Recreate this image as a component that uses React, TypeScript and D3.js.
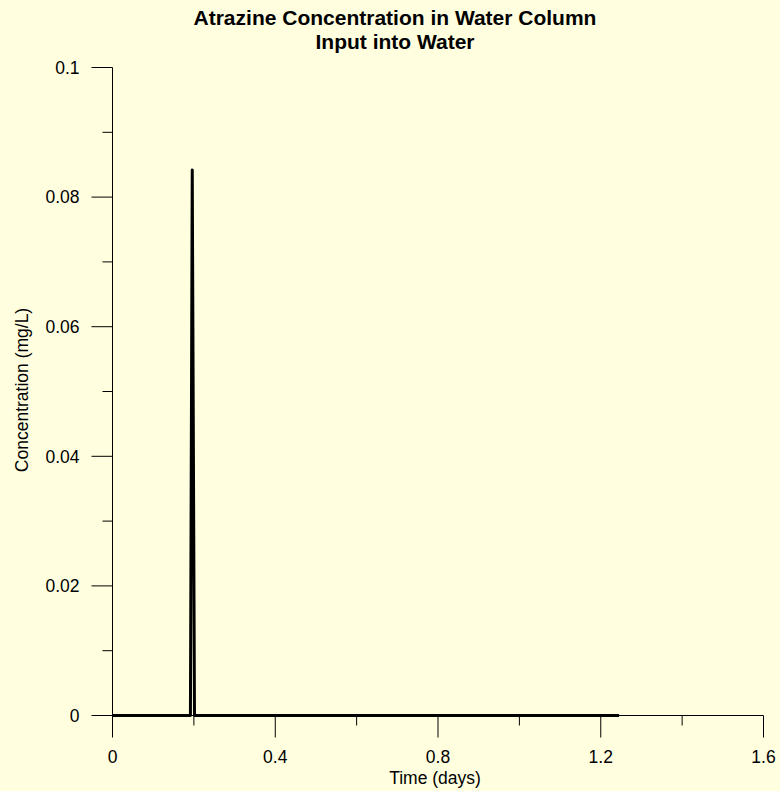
import React from "react";
import * as d3 from "d3";

const titleLines = ["Atrazine Concentration in Water Column", "Input into Water"];
const xLabel = "Time (days)";
const yLabel = "Concentration (mg/L)";

const timeDays = [0, 0.1915, 0.196, 0.2015, 1.245];
const concentration = [0, 0, 0.0842, 0, 0];

const xMajorTicks = [0, 0.4, 0.8, 1.2, 1.6];
const xMinorTicks = [0.2, 0.6, 1.0, 1.4];
const yMajorTicks = [0, 0.02, 0.04, 0.06, 0.08, 0.1];
const yMinorTicks = [0.01, 0.03, 0.05, 0.07, 0.09];

const W = 780;
const H = 791;
const FONT = "'Liberation Sans', Arial, Helvetica, sans-serif";

export default function App() {
  const x = d3.scaleLinear().domain([0, 1.6]).range([112.5, 763.5]);
  const y = d3.scaleLinear().domain([0, 0.1]).range([715.5, 67.5]);

  const pts: [number, number][] = timeDays.map((t, i) => [t, concentration[i]]);
  const line = d3
    .line<[number, number]>()
    .x((d) => x(d[0]))
    .y((d) => y(d[1]));

  const fmt = (v: number) => (v === 0 ? "0" : String(+v.toFixed(2)));

  return (
    <svg
      width={W}
      height={H}
      style={{ position: "fixed", left: 0, top: 0, background: "#ffffe0" }}
      fontFamily={FONT}
    >
      <rect x={0} y={0} width={W} height={H} fill="#ffffe0" />
      {/* Title */}
      <text x={395} y={25} textAnchor="middle" fontWeight="bold" fontSize={21} fill="#000">
        {titleLines[0]}
      </text>
      <text x={395} y={49} textAnchor="middle" fontWeight="bold" fontSize={21} fill="#000">
        {titleLines[1]}
      </text>

      {/* Axes */}
      <line x1={x(0)} x2={x(0)} y1={y(0.1)} y2={y(0)} stroke="#000" strokeWidth={1} />
      <line x1={x(0)} x2={x(1.6)} y1={y(0)} y2={y(0)} stroke="#000" strokeWidth={1} />

      {/* X ticks */}
      {xMajorTicks.map((t) => (
        <g key={"xM" + t}>
          <line x1={x(t)} x2={x(t)} y1={y(0)} y2={y(0) + 22} stroke="#000" strokeWidth={1} />
          <text x={x(t)} y={763} textAnchor="middle" fontSize={17.5} fill="#000">
            {fmt(t)}
          </text>
        </g>
      ))}
      {xMinorTicks.map((t) => (
        <line key={"xm" + t} x1={x(t)} x2={x(t)} y1={y(0)} y2={y(0) + 10} stroke="#000" strokeWidth={1} />
      ))}

      {/* Y ticks */}
      {yMajorTicks.map((t) => (
        <g key={"yM" + t}>
          <line x1={x(0) - 21} x2={x(0)} y1={y(t)} y2={y(t)} stroke="#000" strokeWidth={1} />
          <text x={79.5} y={y(t)} dy="0.36em" textAnchor="end" fontSize={17.5} fill="#000">
            {fmt(t)}
          </text>
        </g>
      ))}
      {yMinorTicks.map((t) => (
        <line key={"ym" + t} x1={x(0) - 10} x2={x(0)} y1={y(t)} y2={y(t)} stroke="#000" strokeWidth={1} />
      ))}

      {/* Axis labels */}
      <text x={435} y={784} textAnchor="middle" fontSize={17.5} fill="#000">
        {xLabel}
      </text>
      <text
        transform={`translate(28,390) rotate(-90)`}
        textAnchor="middle"
        fontSize={17.5}
        fill="#000"
      >
        {yLabel}
      </text>

      {/* Data */}
      <path
        d={line(pts) || ""}
        fill="none"
        stroke="#000"
        strokeWidth={3}
        strokeLinejoin="round"
        strokeLinecap="butt"
      />
    </svg>
  );
}
